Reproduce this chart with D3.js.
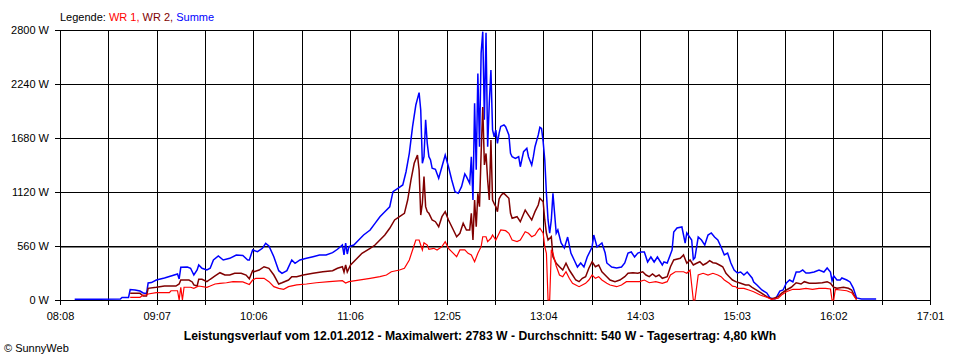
<!DOCTYPE html>
<html><head><meta charset="utf-8">
<script src="https://cdn.jsdelivr.net/npm/d3@7/dist/d3.min.js"></script>
<style>
html,body{margin:0;padding:0;background:#fff;}
svg{display:block;font-family:"Liberation Sans",Arial,sans-serif;}
</style></head><body>
<svg id="chart" width="960" height="360"></svg>
<script>
// ---------- data ----------
const startTime = "08:08";
const endTime = "17:01";
const xTickLabels = ["08:08","09:07","10:06","11:06","12:05","13:04","14:03","15:03","16:02","17:01"];
const yTickValues = [0, 560, 1120, 1680, 2240, 2800];
const averageW = 540;
const legendTitle = "Legende: ";
const seriesNames = ["WR 1", "WR 2", "Summe"];
const titleText = "Leistungsverlauf vom 12.01.2012 - Maximalwert: 2783 W - Durchschnitt: 540 W - Tagesertrag: 4,80 kWh";
const creditText = "\u00A9 SunnyWeb";

const summe = [["08:17",8],["08:32",8],["08:45",10],["08:46",26],["08:50",26],["08:51",109],["08:54",104],["08:57",93],["08:59",73],["09:01",67],["09:02",176],["09:04",181],["09:07",207],["09:12",228],["09:16",249],["09:20",270],["09:21",218],["09:22",339],["09:26",342],["09:28",329],["09:30",259],["09:32",311],["09:33",363],["09:35",329],["09:38",311],["09:40",329],["09:42",415],["09:45",456],["09:48",415],["09:52",432],["09:56",467],["10:00",461],["10:03",415],["10:04",415],["10:06",519],["10:09",501],["10:12",536],["10:14",588],["10:16",560],["10:19",449],["10:22",304],["10:24",277],["10:27",304],["10:30",415],["10:32",381],["10:35",415],["10:39",432],["10:43",449],["10:47",467],["10:51",467],["10:55",491],["10:58",526],["11:01",570],["11:02",467],["11:03",591],["11:04",477],["11:05",553],["11:08",570],["11:11",622],["11:14",674],["11:18",726],["11:21",795],["11:24",864],["11:27",916],["11:30",967],["11:32",1123],["11:35",1158],["11:38",1193],["11:40",1330],["11:42",1521],["11:44",1797],["11:46",2022],["11:48",2150],["11:49",1970],["11:50",1418],["11:51",1486],["11:52",1870],["11:53",1625],["11:54",1486],["11:55",1452],["11:56",1366],["11:58",1355],["12:00",1262],["12:02",1382],["12:04",1504],["12:06",1382],["12:08",1244],["12:10",1123],["12:12",1106],["12:14",1175],["12:16",1307],["12:17",1279],["12:19",1210],["12:20",1486],["12:21",1037],["12:22",2040],["12:23",1350],["12:24",2350],["12:25",1590],["12:26",2560],["12:27",2783],["12:28",1870],["12:29",2772],["12:30",1590],["12:31",2040],["12:32",2385],["12:33",1763],["12:34",1693],["12:35",1763],["12:36",1625],["12:37",1728],["12:38",1800],["12:40",1815],["12:41",1797],["12:43",1711],["12:44",1521],["12:45",1486],["12:47",1469],["12:49",1486],["12:50",1382],["12:52",1538],["12:54",1573],["12:55",1486],["12:57",1400],["12:58",1486],["12:59",1590],["13:01",1711],["13:02",1791],["13:03",1780],["13:04",1642],["13:05",1452],["13:06",1106],["13:07",830],["13:08",692],["13:09",830],["13:10",1106],["13:11",899],["13:12",692],["13:13",726],["13:15",591],["13:17",539],["13:19",653],["13:21",487],["13:23",415],["13:25",342],["13:27",384],["13:29",342],["13:31",446],["13:34",550],["13:35",674],["13:37",550],["13:40",591],["13:42",487],["13:43",384],["13:46",342],["13:49",332],["13:52",342],["13:54",384],["13:56",487],["13:58",498],["14:00",446],["14:02",487],["14:04",498],["14:06",498],["14:08",394],["14:10",446],["14:12",394],["14:14",446],["14:17",363],["14:18",394],["14:20",384],["14:23",519],["14:24",705],["14:26",747],["14:29",757],["14:31",591],["14:32",695],["14:35",622],["14:36",420],["14:37",440],["14:39",653],["14:41",622],["14:43",570],["14:45",674],["14:47",695],["14:49",653],["14:51",622],["14:53",550],["14:55",467],["14:57",487],["14:59",384],["15:01",311],["15:03",280],["15:05",290],["15:07",259],["15:09",290],["15:12",228],["15:13",187],["15:15",156],["15:18",104],["15:21",73],["15:23",21],["15:26",10],["15:27",31],["15:29",93],["15:31",104],["15:33",176],["15:35",207],["15:37",187],["15:39",290],["15:41",290],["15:43",311],["15:45",280],["15:47",280],["15:50",290],["15:53",311],["15:56",290],["15:58",332],["16:00",290],["16:01",200],["16:02",250],["16:04",207],["16:06",207],["16:07",228],["16:10",207],["16:12",187],["16:14",124],["16:16",21],["16:19",10],["16:28",10]];

const wr2 = [["08:51",69],["08:57",69],["08:59",41],["09:01",41],["09:02",121],["09:07",132],["09:12",145],["09:19",145],["09:21",166],["09:22",207],["09:27",207],["09:29",187],["09:30",156],["09:32",145],["09:33",215],["09:35",215],["09:38",190],["09:40",215],["09:43",249],["09:46",283],["09:49",259],["09:52",259],["09:55",277],["09:59",277],["10:02",259],["10:04",220],["10:06",304],["10:07",293],["10:10",311],["10:13",345],["10:16",329],["10:19",259],["10:22",166],["10:24",179],["10:28",207],["10:30",242],["10:33",242],["10:37",259],["10:43",277],["10:49",293],["10:55",304],["10:58",329],["11:01",345],["11:02",290],["11:03",363],["11:04",290],["11:06",363],["11:09",415],["11:13",484],["11:18",536],["11:21",570],["11:24",622],["11:27",674],["11:30",744],["11:33",830],["11:36",864],["11:39",899],["11:41",1037],["11:43",1244],["11:45",1418],["11:47",1504],["11:48",1348],["11:49",881],["11:50",1003],["11:51",1280],["11:52",968],["11:53",916],["11:54",899],["11:56",830],["11:58",812],["12:00",760],["12:02",864],["12:04",916],["12:06",830],["12:09",726],["12:11",656],["12:13",692],["12:15",795],["12:17",726],["12:19",726],["12:20",899],["12:21",622],["12:22",1037],["12:23",760],["12:24",1106],["12:25",968],["12:26",1521],["12:27",2000],["12:28",1400],["12:29",1520],["12:30",1244],["12:31",1037],["12:32",1659],["12:33",1037],["12:34",1000],["12:35",968],["12:36",916],["12:37",1048],["12:38",1080],["12:39",1100],["12:40",1106],["12:43",1055],["12:44",899],["12:45",847],["12:48",864],["12:50",812],["12:53",933],["12:55",881],["12:57",830],["12:59",916],["13:01",985],["13:02",1055],["13:04",1019],["13:05",830],["13:06",692],["13:07",622],["13:09",656],["13:10",449],["13:12",381],["13:14",345],["13:16",311],["13:18",381],["13:20",311],["13:22",259],["13:24",207],["13:26",190],["13:28",225],["13:30",242],["13:32",329],["13:34",397],["13:36",345],["13:38",363],["13:40",293],["13:43",242],["13:45",207],["13:48",190],["13:51",207],["13:54",242],["13:56",277],["13:59",283],["14:02",277],["14:05",293],["14:07",259],["14:09",242],["14:11",270],["14:13",242],["14:15",259],["14:17",225],["14:20",242],["14:22",345],["14:24",415],["14:28",432],["14:30",467],["14:32",381],["14:34",415],["14:36",363],["14:38",381],["14:40",397],["14:42",363],["14:44",381],["14:46",408],["14:48",387],["14:50",381],["14:52",363],["14:54",345],["14:56",277],["14:58",242],["15:00",207],["15:02",190],["15:05",173],["15:08",156],["15:10",156],["15:12",132],["15:14",111],["15:18",69],["15:21",34],["15:24",10],["15:28",34],["15:30",69],["15:33",104],["15:36",132],["15:39",179],["15:42",166],["15:44",190],["15:47",173],["15:51",173],["15:55",179],["15:58",190],["16:00",173],["16:02",132],["16:04",121],["16:08",132],["16:11",121],["16:13",104],["16:15",34],["16:16",7]];

const wr1 = [["08:51",28],["08:57",28],["08:59",52],["09:01",52],["09:02",62],["09:07",76],["09:15",76],["09:16",96],["09:20",96],["09:21",0],["09:22",132],["09:23",0],["09:24",132],["09:28",132],["09:30",121],["09:33",145],["09:38",132],["09:40",145],["09:43",166],["09:46",173],["09:50",179],["09:54",190],["10:00",187],["10:04",161],["10:06",207],["10:08",225],["10:13",225],["10:16",190],["10:19",138],["10:22",121],["10:25",111],["10:28",138],["10:33",156],["10:39",166],["10:45",179],["10:53",190],["11:01",200],["11:03",176],["11:05",190],["11:11",207],["11:18",225],["11:24",242],["11:28",259],["11:31",293],["11:36",311],["11:39",329],["11:42",415],["11:44",519],["11:46",622],["11:48",622],["11:50",519],["11:51",594],["11:53",570],["11:54",526],["11:57",536],["11:59",519],["12:02",553],["12:04",605],["12:06",536],["12:09",484],["12:11",449],["12:13",519],["12:16",519],["12:18",484],["12:20",467],["12:22",397],["12:24",484],["12:26",553],["12:27",656],["12:29",656],["12:30",605],["12:32",640],["12:33",674],["12:35",622],["12:36",656],["12:38",726],["12:41",719],["12:43",692],["12:45",622],["12:48",605],["12:50",622],["12:53",708],["12:55",692],["12:57",656],["12:59",674],["13:01",726],["13:02",744],["13:04",692],["13:05",553],["13:06",484],["13:07",0],["13:08",0],["13:09",520],["13:10",484],["13:12",353],["13:14",259],["13:16",242],["13:18",293],["13:20",225],["13:22",173],["13:24",156],["13:26",138],["13:28",156],["13:30",173],["13:32",207],["13:34",259],["13:36",225],["13:38",242],["13:40",207],["13:43",173],["13:45",156],["13:49",138],["13:52",156],["13:55",190],["13:59",190],["14:03",190],["14:06",207],["14:09",179],["14:13",190],["14:17",173],["14:20",190],["14:22",259],["14:25",293],["14:30",293],["14:32",277],["14:34",311],["14:36",0],["14:37",0],["14:39",259],["14:42",277],["14:45",259],["14:48",277],["14:51",259],["14:53",242],["14:55",207],["14:58",173],["15:00",143],["15:02",138],["15:03",121],["15:07",121],["15:10",104],["15:13",86],["15:17",52],["15:21",28],["15:24",7],["15:28",18],["15:30",52],["15:33",86],["15:37",111],["15:41",111],["15:45",121],["15:49",111],["15:53",121],["15:57",121],["16:00",114],["16:01",0],["16:02",0],["16:03",111],["16:06",104],["16:10",96],["16:13",76],["16:15",28],["16:16",3]];

// ---------- chart ----------
const parseT = d3.timeParse("%H:%M");
const svg = d3.select("#chart");
const margin = {left: 60, right: 30, top: 30, bottom: 60};
const W = 960, H = 360;
const innerH = H - margin.top - margin.bottom; // 270

const t0 = parseT(startTime), t1 = parseT(endTime);
const x = d3.scaleTime().domain([t0, t1]).range([margin.left, W - margin.right]);
const y = d3.scaleLinear().domain([0, 2800]).range([H - margin.bottom, margin.top]);

const nTicks = 18;
const tickDates = d3.range(nTicks + 1).map(k => new Date(+t0 + k * (t1 - t0) / nTicks));

// horizontal grid
svg.append("g")
  .attr("transform", `translate(${margin.left},0)`)
  .call(d3.axisLeft(y).tickValues(yTickValues).tickSize(-(W - margin.left - margin.right)).tickFormat(""))
  .call(g => g.select(".domain").remove())
  .call(g => g.selectAll("line").attr("stroke", "#000").attr("shape-rendering", "crispEdges"));

// vertical grid
svg.append("g")
  .attr("transform", `translate(0,${H - margin.bottom})`)
  .call(d3.axisBottom(x).tickValues(tickDates).tickSize(-innerH).tickFormat(""))
  .call(g => g.select(".domain").remove())
  .call(g => g.selectAll("line").attr("stroke", "#000").attr("shape-rendering", "crispEdges"));

// average line
svg.append("line")
  .attr("x1", margin.left).attr("x2", W - margin.right)
  .attr("y1", y(averageW)).attr("y2", y(averageW))
  .attr("stroke", "#808080").attr("stroke-width", 1).attr("shape-rendering", "crispEdges");

// axes
const xAxis = svg.append("g")
  .attr("transform", `translate(0,${H - margin.bottom})`)
  .call(d3.axisBottom(x).tickValues(tickDates).tickSize(5).tickPadding(7)
    .tickFormat((d, i) => i % 2 === 0 ? xTickLabels[i / 2] : ""));
xAxis.selectAll("line, path").attr("stroke", "#000").attr("shape-rendering", "crispEdges");
xAxis.selectAll("text").attr("font-size", 11).attr("font-family", "Liberation Sans, Arial, sans-serif").attr("fill", "#000");

const yAxis = svg.append("g")
  .attr("transform", `translate(${margin.left},0)`)
  .call(d3.axisLeft(y).tickValues(yTickValues).tickSize(5).tickPadding(6).tickFormat(d => d + " W"));
yAxis.selectAll("line, path").attr("stroke", "#000").attr("shape-rendering", "crispEdges");
yAxis.selectAll("text").attr("font-size", 11).attr("font-family", "Liberation Sans, Arial, sans-serif").attr("fill", "#000");

// series
const line = d3.line().x(d => x(parseT(d[0]))).y(d => y(d[1]));
const series = [
  {name: seriesNames[2], data: summe, color: "#0000ff", w: 1.5},
  {name: seriesNames[1], data: wr2, color: "#800000", w: 1.5},
  {name: seriesNames[0], data: wr1, color: "#ff0000", w: 1.2}
];
svg.append("g").selectAll("path").data(series).join("path")
  .attr("d", s => line(s.data))
  .attr("fill", "none").attr("stroke", s => s.color).attr("stroke-width", s => s.w)
  .attr("stroke-linejoin", "miter");

// legend
const legend = svg.append("text").attr("x", 60).attr("y", 20.5).attr("font-size", 11);
legend.append("tspan").attr("fill", "#000").text(legendTitle);
legend.append("tspan").attr("fill", "#ff0000").text(seriesNames[0] + ", ");
legend.append("tspan").attr("fill", "#800000").text(seriesNames[1] + ", ");
legend.append("tspan").attr("fill", "#0000ff").text(seriesNames[2]);

// title
svg.append("text").attr("x", 480).attr("y", 340).attr("text-anchor", "middle")
  .attr("font-size", 12.2).attr("font-weight", "bold").attr("fill", "#000").text(titleText);

// credit
svg.append("text").attr("x", 4).attr("y", 352).attr("font-size", 11).attr("fill", "#000").text(creditText);
</script>
</body></html>
